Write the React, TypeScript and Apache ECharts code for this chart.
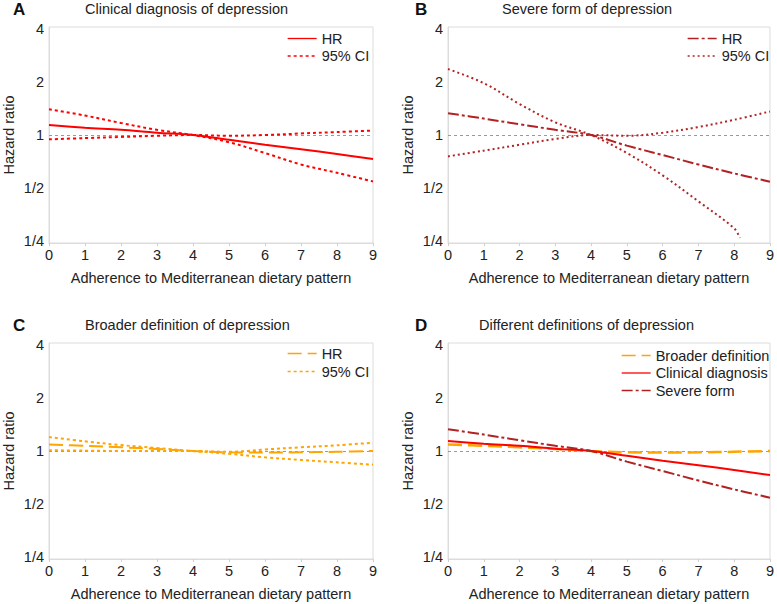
import React, { useEffect, useRef } from "react";
import * as echarts from "echarts";

const FONT = "'Liberation Sans', Arial, Helvetica, sans-serif";

// x: adherence score
const xValues = [0, 1, 2, 3, 4, 5, 6, 7, 8, 9];

// Panel A: clinical diagnosis
const clinicalHR = [1.14, 1.10, 1.07, 1.03, 1.0, 0.94, 0.88, 0.83, 0.78, 0.73];
const clinicalCI1 = [1.40, 1.29, 1.17, 1.07, 1.0, 0.91, 0.79, 0.68, 0.61, 0.545];
const clinicalCI2 = [0.945, 0.96, 0.975, 0.99, 1.0, 0.99, 1.0, 1.02, 1.04, 1.06];

// Panel B: severe form
const severeHR = [1.33, 1.24, 1.15, 1.07, 1.0, 0.87, 0.77, 0.68, 0.605, 0.543];
const severeCI1X = [0, 1, 2, 3, 4, 5, 6, 7, 8, 8.16];
const severeCI1 = [2.37, 1.97, 1.5, 1.18, 1.0, 0.79, 0.59, 0.42, 0.295, 0.26];
const severeCI2 = [0.756, 0.815, 0.88, 0.95, 1.0, 0.99, 1.03, 1.11, 1.22, 1.36];

// Panel C: broader definition
const broaderHR = [1.09, 1.07, 1.05, 1.027, 1.0, 0.983, 0.98, 0.983, 0.99, 1.0];
const broaderCI1 = [1.2, 1.135, 1.08, 1.04, 1.0, 0.965, 0.92, 0.89, 0.862, 0.836];
const broaderCI2 = [1.01, 1.005, 1.0, 1.0, 1.0, 0.99, 1.02, 1.05, 1.077, 1.115];

const yTickLabels: Record<string, string> = { "-2": "1/4", "-1": "1/2", "0": "1", "1": "2", "2": "4" };

const panelLetters = ["A", "B", "C", "D"];
const panelTitles = [
  "Clinical diagnosis of depression",
  "Severe form of depression",
  "Broader definition of depression",
  "Different definitions of depression",
];
const xName = "Adherence to Mediterranean dietary pattern";
const yName = "Hazard ratio";

const RED = "#ff0000";
const DARKRED = "#b22222";
const ORANGE = "#ffa500";

const pairs = (xs: number[], ys: number[]) => ys.map((y, i) => [xs[i], y]);

export default function App() {
  const ref = useRef<HTMLDivElement>(null);
  useEffect(() => {
    if (!ref.current) return;
    const chart = echarts.init(ref.current, undefined, { renderer: "svg" });

    const grids = [
      { left: 48, top: 27, width: 325, height: 216 },
      { left: 448, top: 27, width: 323.5, height: 216 },
      { left: 48, top: 343, width: 325, height: 216 },
      { left: 448, top: 343, width: 323.5, height: 216 },
    ].map((g) => ({ ...g, show: true, borderColor: "#dcdcdc", borderWidth: 1, backgroundColor: "transparent" }));

    const pad = 0.0377;
    const xAxes = grids.map((_, i) => ({
      type: "value",
      gridIndex: i,
      min: 0,
      max: 9,
      interval: 1,
      name: xName,
      nameLocation: "middle",
      nameGap: 27,
      nameTextStyle: { fontFamily: FONT, fontSize: 14.5, color: "#222" },
      axisLine: { show: true, lineStyle: { color: "#dcdcdc", width: 1 } },
      axisTick: { show: true, length: 3, lineStyle: { color: "#cfcfcf" } },
      splitLine: { show: false },
      axisLabel: { fontFamily: FONT, fontSize: 14.5, color: "#222", margin: 4 },
    }));
    const yAxes = grids.map((_, i) => ({
      type: "log",
      logBase: 2,
      gridIndex: i,
      min: 0.25 * Math.pow(2, -pad),
      max: 4 * Math.pow(2, pad),
      name: yName,
      nameLocation: "middle",
      nameGap: 33,
      nameTextStyle: { fontFamily: FONT, fontSize: 14.5, color: "#222" },
      axisLine: { show: true, lineStyle: { color: "#dcdcdc", width: 1 } },
      axisTick: { show: false },
      splitLine: { show: false },
      axisLabel: {
        fontFamily: FONT,
        fontSize: 14.5,
        color: "#222",
        margin: 5,
        showMinLabel: false,
        showMaxLabel: false,
        formatter: (v: number) => {
          const e = Math.log2(v);
          const r = Math.round(e);
          if (Math.abs(e - r) > 0.01) return "";
          return yTickLabels[String(r)] ?? "";
        },
      },
    }));

    const refLine = {
      silent: true,
      z: 1,
      symbol: ["none", "none"],
      label: { show: false },
      lineStyle: { color: "#999", width: 1, type: [3, 3] },
      data: [{ yAxis: 1 }],
    };

    const line = (name: string, idx: number, data: number[][], color: string, type: any, width = 2, extra: any = {}) => ({
      type: "line",
      name,
      xAxisIndex: idx,
      yAxisIndex: idx,
      data,
      smooth: 0.35,
      symbol: "none",
      showSymbol: false,
      lineStyle: { color, width, type },
      itemStyle: { color },
      z: 3,
      ...extra,
    });

    const dashDot = [11, 3, 3, 3];
    const longDash = [14, 6];

    const series = [
      // A
      line("A|HR", 0, pairs(xValues, clinicalHR), RED, "solid", 2, { markLine: refLine }),
      line("A|95% CI", 0, pairs(xValues, clinicalCI1), RED, [3, 3]),
      line("A|95% CI", 0, pairs(xValues, clinicalCI2), RED, [3, 3]),
      // B
      line("B|HR", 1, pairs(xValues, severeHR), DARKRED, dashDot, 2, { markLine: refLine }),
      line("B|95% CI", 1, pairs(severeCI1X, severeCI1), DARKRED, [2, 3]),
      line("B|95% CI", 1, pairs(xValues, severeCI2), DARKRED, [2, 3]),
      // C
      line("C|HR", 2, pairs(xValues, broaderHR), ORANGE, longDash, 2, { markLine: refLine }),
      line("C|95% CI", 2, pairs(xValues, broaderCI1), ORANGE, [3, 3]),
      line("C|95% CI", 2, pairs(xValues, broaderCI2), ORANGE, [3, 3]),
      // D
      line("D|Broader definition", 3, pairs(xValues, broaderHR), ORANGE, longDash, 2.5, { markLine: refLine }),
      line("D|Clinical diagnosis", 3, pairs(xValues, clinicalHR), RED, "solid", 2),
      line("D|Severe form", 3, pairs(xValues, severeHR), DARKRED, dashDot, 2),
    ];

    const legendBase = {
      orient: "vertical",
      padding: 0,
      itemGap: 2.5,
      itemHeight: 14,
      itemWidth: 29,
      selectedMode: false,
      formatter: (n: string) => n.split("|")[1],
      textStyle: { fontFamily: FONT, fontSize: 14.5, color: "#222", lineHeight: 14 },
      lineStyle: { width: 1.3 },
      itemStyle: { opacity: 0 },
    };
    const legends = [
      { ...legendBase, left: 287, top: 31, data: ["A|HR", "A|95% CI"] },
      { ...legendBase, left: 687, top: 31, data: ["B|HR", "B|95% CI"] },
      { ...legendBase, left: 287, top: 346, itemGap: 3, data: ["C|HR", "C|95% CI"] },
      { ...legendBase, left: 621, top: 348, data: ["D|Broader definition", "D|Clinical diagnosis", "D|Severe form"] },
    ];

    const letterPos = [
      { left: 13, top: 0.5 },
      { left: 415, top: 0.5 },
      { left: 13, top: 316.5 },
      { left: 415, top: 316.5 },
    ];
    const titlePos = [
      { left: 85, top: 1 },
      { left: 502, top: 1 },
      { left: 85, top: 317.5 },
      { left: 479, top: 317.5 },
    ];
    const titles: any[] = [];
    panelLetters.forEach((t, i) =>
      titles.push({
        text: t,
        ...letterPos[i],
        padding: 0,
        textStyle: { fontFamily: FONT, fontSize: 17, fontWeight: "bold", color: "#111" },
      })
    );
    panelTitles.forEach((t, i) =>
      titles.push({
        text: t,
        ...titlePos[i],
        padding: 0,
        textStyle: { fontFamily: FONT, fontSize: 14.5, fontWeight: "normal", color: "#222" },
      })
    );

    chart.setOption({
      animation: false,
      backgroundColor: "#ffffff",
      title: titles,
      legend: legends,
      grid: grids,
      xAxis: xAxes,
      yAxis: yAxes,
      series,
    });
    return () => chart.dispose();
  }, []);
  return <div ref={ref} style={{ position: "fixed", left: 0, top: 0, width: 777, height: 604 }} />;
}
